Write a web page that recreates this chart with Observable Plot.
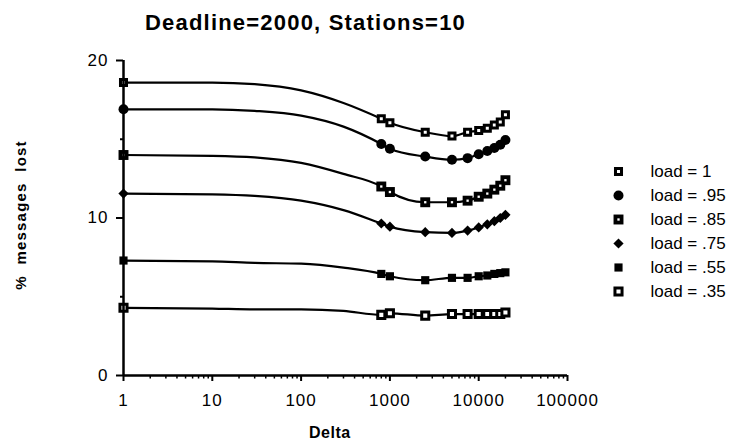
<!DOCTYPE html>
<html><head><meta charset="utf-8">
<script src="https://cdn.jsdelivr.net/npm/d3@7"></script>
<script src="https://cdn.jsdelivr.net/npm/@observablehq/plot@0.6"></script>
<style>
body{margin:0;background:#fff;}
#wrap{position:relative;width:736px;height:447px;font-family:"Liberation Sans",Arial,sans-serif;color:#000;overflow:hidden;}
#wrap svg{position:absolute;left:0;top:0;}
.t{position:absolute;white-space:pre;font-weight:bold;line-height:1;}
#legend{position:absolute;left:590px;top:155px;}
.tick-lbl text{letter-spacing:1px;}
</style></head><body><div id="wrap"></div>
<script>
// ---- data ----
const seriesNames = ["load = 1", "load = .95", "load = .85", "load = .75", "load = .55", "load = .35"];
const markerDelta = [1, 800, 1000, 2500, 5000, 7500, 10000, 12500, 15000, 17500, 20000];
const load100 = [18.6, 16.3, 16.05, 15.45, 15.2, 15.45, 15.55, 15.7, 15.9, 16.1, 16.55];
const load095 = [16.9, 14.7, 14.4, 13.9, 13.7, 13.8, 14.05, 14.25, 14.45, 14.65, 14.95];
const load085 = [14.0, 12.0, 11.65, 11.0, 11.0, 11.1, 11.35, 11.55, 11.8, 12.05, 12.4];
const load075 = [11.55, 9.65, 9.45, 9.1, 9.05, 9.2, 9.4, 9.6, 9.8, 10.0, 10.2];
const load055 = [7.3, 6.45, 6.3, 6.05, 6.2, 6.2, 6.3, 6.35, 6.45, 6.5, 6.55];
const load035 = [4.3, 3.85, 3.95, 3.8, 3.9, 3.9, 3.9, 3.9, 3.9, 3.9, 4.0];
// fitted curve read off the picture between the first marker and 800 (no markers there)
const curveDelta = [10, 30, 100, 300];
const curve100 = [18.6, 18.5, 18.1, 17.3];
const curve095 = [16.9, 16.8, 16.5, 15.8];
const curve085 = [13.95, 13.85, 13.5, 12.8];
const curve075 = [11.5, 11.4, 11.1, 10.5];
const curve055 = [7.25, 7.15, 7.1, 6.85];
const curve035 = [4.25, 4.2, 4.2, 4.1];
const xTickValues = [1, 10, 100, 1000, 10000, 100000];
const yTickValues = [0, 10, 20];
const yMinorValues = [5, 15];
const title = "Deadline=2000, Stations=10";
const xTitle = "Delta";
const yTitle = "%  messages  lost";

// ---- build tables ----
const markerSets = [load100, load095, load085, load075, load055, load035];
const curveSets = [curve100, curve095, curve085, curve075, curve055, curve035];
const markers = [];
const linePts = [];
seriesNames.forEach((s, i) => {
  markerDelta.forEach((d, j) => { markers.push({series: s, delta: d, value: markerSets[i][j]}); linePts.push({series: s, delta: d, value: markerSets[i][j]}); });
  curveDelta.forEach((d, j) => linePts.push({series: s, delta: d, value: curveSets[i][j]}));
});
linePts.sort((a, b) => d3.ascending(a.series, b.series) || a.delta - b.delta);
const xMinor = [];
for (let k = 0; k < 5; k++) for (let m = 2; m <= 9; m++) xMinor.push(m * Math.pow(10, k));

// ---- marker styles ----
const styles = {
  "load = 1":   [{symbol: "square", r: 3.4, fill: "white", stroke: "black", strokeWidth: 3}],
  "load = .95": [{symbol: "circle", r: 5, fill: "black"}],
  "load = .85": [{symbol: "square", r: 5.6, fill: "black"}, {symbol: "square", r: 1.3, fill: "white"}],
  "load = .75": [{symbol: "diamond2", r: 4.6, fill: "black"}],
  "load = .55": [{symbol: "square", r: 4.6, fill: "black"}],
  "load = .35": [{symbol: "square", r: 4, fill: "white", stroke: "black", strokeWidth: 3}]
};
function dotMarks(data, channels) {
  const out = [];
  seriesNames.forEach(s => styles[s].forEach(st => out.push(Plot.dot(data.filter(d => (d.series ?? d) === s), {...channels, ...st}))));
  return out;
}

const wrap = document.getElementById("wrap");
const chart = Plot.plot({
  width: 736, height: 447,
  marginLeft: 123, marginRight: 169, marginTop: 60, marginBottom: 72,
  x: {type: "log", domain: [1, 100000]},
  y: {domain: [0, 20]},
  style: {fontFamily: "'Liberation Sans', Arial, sans-serif", fontSize: "16px", color: "black", background: "white"},
  marks: [
    Plot.line(linePts, {x: "delta", y: "value", z: "series", curve: "monotone-x", stroke: "black", strokeWidth: 2.2}),
    ...dotMarks(markers, {x: "delta", y: "value"}),
    Plot.ruleX([1], {strokeWidth: 2.5}),
    Plot.ruleY([0], {strokeWidth: 2.5}),
    Plot.axisX(xTickValues, {tickSize: 6, tickPadding: 12, tickFormat: d => String(d), label: null, fontSize: 17, strokeWidth: 2, className: "tick-lbl"}),
    Plot.axisX(xMinor, {tickSize: 3.5, tickFormat: () => "", label: null, strokeWidth: 1.5}),
    Plot.axisY(yTickValues, {tickSize: 7, tickPadding: 8, label: null, fontSize: 17, strokeWidth: 2, className: "tick-lbl"}),
    Plot.axisY(yMinorValues, {tickSize: 3, tickFormat: () => "", label: null, strokeWidth: 2})
  ]
});
wrap.appendChild(chart);

// legend drawn with Plot's scales
const legend = Plot.plot({
  width: 146, height: 152,
  marginLeft: 28, marginRight: 0, marginTop: 14, marginBottom: 14,
  y: {type: "point", domain: seriesNames, padding: 0, axis: null},
  style: {fontFamily: "'Liberation Sans', Arial, sans-serif", fontSize: "17px", color: "black", background: "transparent", overflow: "visible"},
  marks: [
    ...dotMarks(seriesNames, {y: d => d, frameAnchor: "left"}),
    Plot.text(seriesNames, {y: d => d, text: d => d, frameAnchor: "left", dx: 32, textAnchor: "start", fontSize: 17})
  ]
});
legend.id = "legend";
legend.style.left = "590px"; legend.style.top = "155px";
wrap.appendChild(legend);

function addText(txt, css) {
  const el = document.createElement("div");
  el.className = "t"; el.textContent = txt;
  Object.assign(el.style, css);
  wrap.appendChild(el);
  return el;
}
addText(title, {left: "145px", top: "12px", fontSize: "22px", letterSpacing: "1.2px"});
addText(xTitle, {left: "309px", top: "425px", fontSize: "16px", letterSpacing: "0.5px"});
const yl = addText(yTitle, {left: "20px", top: "215px", fontSize: "15px", letterSpacing: "1.2px", transformOrigin: "0 0"});
const w = yl.getBoundingClientRect().width, h = yl.getBoundingClientRect().height;
yl.style.transform = `rotate(-90deg) translate(${-w / 2}px, ${-h / 2}px)`;
</script></body></html>
